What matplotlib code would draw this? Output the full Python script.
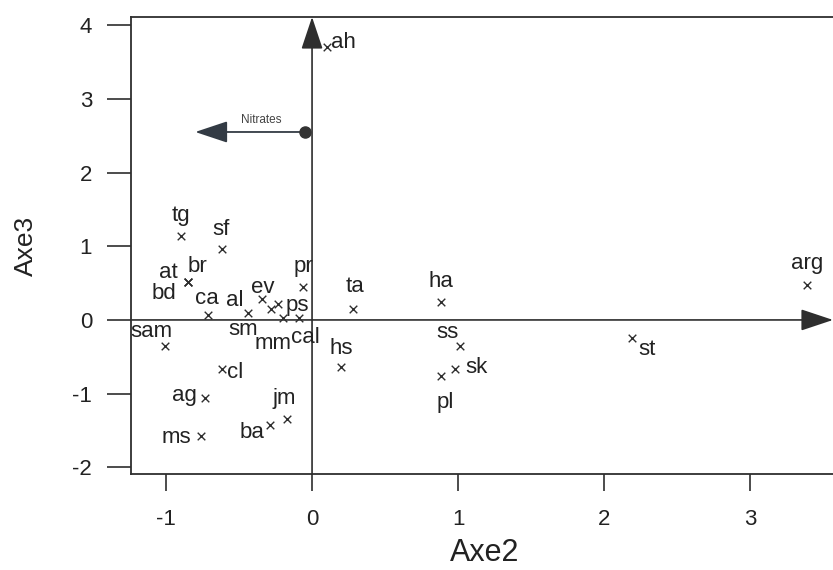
import matplotlib
matplotlib.use("Agg")
import matplotlib.pyplot as plt
from matplotlib.patches import FancyArrowPatch

plt.rcParams['font.family'] = ['Liberation Sans', 'DejaVu Sans']
plt.rcParams['axes.unicode_minus'] = False

# ---- data (Axe2, Axe3 coordinates) ----
labels = ["ah", "tg", "sf", "br", "at", "bd", "ca", "al", "ev", "sm", "ps", "mm",
          "cal", "pr", "sam", "cl", "ag", "ms", "ba", "jm", "hs", "ta", "ha",
          "ss", "sk", "pl", "st", "arg"]
axe2 = [0.10, -0.90, -0.62, -0.85, -0.85, -0.85, -0.71, -0.44, -0.34, -0.28, -0.23, -0.20,
        -0.09, -0.06, -1.01, -0.62, -0.73, -0.76, -0.29, -0.17, 0.20, 0.28, 0.88,
        1.01, 0.98, 0.88, 2.19, 3.39]
axe3 = [3.70, 1.14, 0.96, 0.52, 0.52, 0.52, 0.07, 0.09, 0.28, 0.15, 0.22, 0.02,
        0.02, 0.45, -0.36, -0.67, -1.06, -1.57, -1.42, -1.35, -0.64, 0.15, 0.25,
        -0.35, -0.66, -0.76, -0.24, 0.48]

# label offsets (pixels, y up)
offsets = [(4, 5), (0, 20), (0, 20), (9, 15), (-20, 9), (-24, -12), (-2, 16), (-13, 13),
           (0, 12), (-28, -21), (7, -2), (-10, -25), (6, -19), (0, 20), (-13, 15),
           (5, -3), (-21, 3), (-25, -2), (-18, -8), (-3, 21), (0, 19), (2, 22), (0, 20),
           (-12, 13), (10, 1), (5, -27), (7, -12), (0, 21)]
left_aligned = ["ah", "cl", "sk", "ps", "st"]

nitrate_start = (-0.05, 2.55)
nitrate_end = (-0.80, 2.55)
nitrate_label = "Nitrates"

xticks = [-1, 0, 1, 2, 3]
yticks = [-2, -1, 0, 1, 2, 3, 4]
xlim = (-1.24, 3.568)
ylim = (-2.09, 4.11)

dark = "#2e2e2e"
astyle = '-|>,head_length=1.35,head_width=0.45'

fig = plt.figure(figsize=(8.33, 5.70), dpi=100)
ax = fig.add_axes([131/833, (570-474)/570, (833-131)/833, (474-17)/570])
ax.set_xlim(*xlim)
ax.set_ylim(*ylim)

for s in ["left", "bottom", "top"]:
    ax.spines[s].set_color(dark)
    ax.spines[s].set_linewidth(1.3)
ax.spines["right"].set_visible(False)

ax.set_xticks(xticks)
ax.set_yticks(yticks)
ax.tick_params(axis='y', length=17, width=1.2, color=dark, pad=11, labelsize=16, labelcolor="#222222")
ax.tick_params(axis='x', length=12, width=1.2, color=dark, pad=13, labelsize=16, labelcolor="#222222")

# axis arrows
ax.add_patch(FancyArrowPatch((xlim[0], 0), (xlim[1], 0), arrowstyle=astyle,
                             mutation_scale=15, color=dark, lw=1.2, shrinkA=0, shrinkB=0,
                             clip_on=False, zorder=3))
ax.add_patch(FancyArrowPatch((0, ylim[0]), (0, ylim[1]), arrowstyle=astyle,
                             mutation_scale=15, color=dark, lw=1.2, shrinkA=0, shrinkB=0,
                             clip_on=False, zorder=3))

# nitrates arrow
ax.add_patch(FancyArrowPatch(nitrate_start, nitrate_end, arrowstyle=astyle,
                             mutation_scale=15, color="#333b44", lw=1.3, shrinkA=0, shrinkB=0, zorder=3))
ax.plot([nitrate_start[0]], [nitrate_start[1]], 'o', color="#333333", ms=8, zorder=4)
ax.annotate(nitrate_label, xy=((nitrate_start[0] + nitrate_end[0]) / 2 + 0.08, nitrate_start[1]),
            xytext=(0, 12), textcoords='offset pixels', ha='center', va='center',
            fontsize=8.5, color="#444444")

# points
ax.scatter(axe2, axe3, marker='x', s=30, linewidths=1.0, color=dark, zorder=4)
for lab, x, y, off in zip(labels, axe2, axe3, offsets):
    ha = 'left' if lab in left_aligned else 'center'
    ax.annotate(lab, xy=(x, y), xytext=off, textcoords='offset pixels',
                ha=ha, va='center', fontsize=16, color="#222222")

ax.set_xlabel("Axe2", fontsize=22, color="#222222")
ax.set_ylabel("Axe3", fontsize=19, color="#222222")
ax.xaxis.set_label_coords(0.504, -0.14)
ax.yaxis.set_label_coords(-0.132, 0.50)

fig.savefig("out.png", dpi=100)
